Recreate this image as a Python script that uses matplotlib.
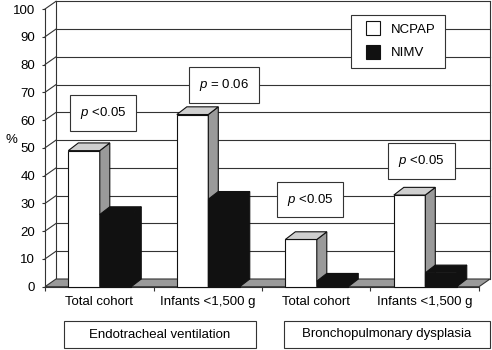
import matplotlib
matplotlib.use("Agg")
import matplotlib.pyplot as plt
from matplotlib.patches import Polygon, Rectangle
from matplotlib.lines import Line2D

plt.rcParams['font.family'] = ['Liberation Sans', 'DejaVu Sans']
plt.rcParams['mathtext.fontset'] = 'custom'
plt.rcParams['mathtext.it'] = 'Liberation Sans:italic'
plt.rcParams['mathtext.rm'] = 'Liberation Sans'

# data
categories = ['Total cohort', 'Infants <1,500 g', 'Total cohort', 'Infants <1,500 g']
ncpap = [49, 62, 17, 33]
nimv = [26, 31.5, 2, 5]
p_texts = ['$p$ <0.05', '$p$ = 0.06', '$p$ <0.05', '$p$ <0.05']
groups = ['Endotracheal ventilation', 'Bronchopulmonary dysplasia']

# where the p boxes sit (data coords)
p_pos = [(0.535, 62.5), (1.65, 72.6), (2.44, 31.4), (3.47, 45.3)]

W, H = 492, 350
fig = plt.figure(figsize=(W / 100, H / 100), dpi=100)
ax_l, ax_b, ax_w, ax_h = 45, 286.7, 434, 277.7  # pixels
ax = fig.add_axes([ax_l / W, (H - ax_b) / H, ax_w / W, ax_h / H])
ax.set_xlim(0, 4)
ax.set_ylim(0, 100)

# pixel depth -> data units
px_x = ax_w / 4.0
px_y = ax_h / 100.0
wdx, wdy = 11 / px_x, 7.7 / px_y   # wall depth
bdx, bdy = 10 / px_x, 7.7 / px_y   # bar depth

grid_c = '#333333'
lw = 0.8
side_grey = '#9a9a9a'
top_grey = '#cfcfcf'
dark = '#111111'

# back wall gridlines + left side diagonals
for v in range(10, 101, 10):
    ax.plot([0 + wdx, 4 + wdx], [v + wdy, v + wdy], color=grid_c, lw=lw, zorder=1, clip_on=False)
    ax.plot([0, wdx], [v, v + wdy], color=grid_c, lw=lw, zorder=1, clip_on=False)
ax.plot([wdx, wdx], [wdy, 100 + wdy], color=grid_c, lw=lw, zorder=1, clip_on=False)
ax.plot([4 + wdx, 4 + wdx], [wdy, 100 + wdy], color=grid_c, lw=lw, zorder=1, clip_on=False)

# floor
floor = Polygon([(0, 0), (4, 0), (4 + wdx, wdy), (wdx, wdy)], closed=True,
                facecolor=side_grey, edgecolor=grid_c, lw=lw, zorder=2, clip_on=False)
ax.add_patch(floor)


def bar3d(x0, w, h, front, side, top, z):
    ax.add_patch(Rectangle((x0, 0), w, h, facecolor=front, edgecolor=dark, lw=lw,
                           zorder=z, clip_on=False))
    ax.add_patch(Polygon([(x0 + w, 0), (x0 + w, h), (x0 + w + bdx, h + bdy), (x0 + w + bdx, bdy)],
                         closed=True, facecolor=side, edgecolor=dark, lw=lw, zorder=z, clip_on=False))
    ax.add_patch(Polygon([(x0, h), (x0 + w, h), (x0 + w + bdx, h + bdy), (x0 + bdx, h + bdy)],
                         closed=True, facecolor=top, edgecolor=dark, lw=lw, zorder=z, clip_on=False))


bw = 0.29
for i in range(len(categories)):
    bar3d(i + 0.215, bw, ncpap[i], 'white', side_grey, top_grey, 3 + i)
    bar3d(i + 0.215 + bw, bw, nimv[i], dark, dark, dark, 3 + i)

# axes styling
for s in ['top', 'right']:
    ax.spines[s].set_visible(False)
ax.spines['left'].set_linewidth(lw)
ax.spines['left'].set_color(grid_c)
ax.spines['bottom'].set_linewidth(lw)
ax.spines['bottom'].set_color(grid_c)
ax.spines['bottom'].set_zorder(2.5)
ax.patch.set_visible(False)

ax.set_yticks(range(0, 101, 10))
ax.tick_params(axis='y', length=2.5, width=lw, color=grid_c, pad=4.5, labelsize=9.5)
ax.set_xticks([0, 1, 2, 3, 4])
ax.set_xticklabels([])
ax.set_xticks([0.5, 1.5, 2.5, 3.5], minor=True)
ax.set_xticklabels(categories, minor=True)
ax.tick_params(axis='x', which='major', length=3, width=lw, color=grid_c)
ax.tick_params(axis='x', which='minor', length=0, pad=6.5, labelsize=9.5)

fig.text(6 / W, 1 - 140 / H, '%', ha='left', va='center', fontsize=9.5)

# p-value boxes
for (px, py), t in zip(p_pos, p_texts):
    ax.text(px, py, t, ha='center', va='center', fontsize=9.5, zorder=20,
            bbox=dict(boxstyle='square,pad=0.75', facecolor='white', edgecolor=grid_c, lw=lw))

# group boxes under the axis
group_px = [(64, 256), (284, 490)]
for (x1, x2), g in zip(group_px, groups):
    a1 = (x1 - ax_l) / ax_w
    a2 = (x2 - ax_l) / ax_w
    y1 = (ax_b - 348) / ax_h
    y2 = (ax_b - 321) / ax_h
    ax.add_patch(Rectangle((a1, y1), a2 - a1, y2 - y1, transform=ax.transAxes,
                           facecolor='white', edgecolor=grid_c, lw=lw, clip_on=False))
    ax.text((a1 + a2) / 2, (y1 + y2) / 2, g, transform=ax.transAxes,
            ha='center', va='center', fontsize=9.5)

# legend
handles = [Line2D([], [], ls='', marker='s', markersize=9.5, markerfacecolor='white',
                  markeredgecolor=dark, markeredgewidth=lw),
           Line2D([], [], ls='', marker='s', markersize=9.5, markerfacecolor=dark,
                  markeredgecolor=dark, markeredgewidth=lw)]
leg = ax.legend(handles, ['NCPAP', 'NIMV'], loc='upper left',
                bbox_to_anchor=((351 - ax_l) / ax_w, (ax_b - 15) / ax_h),
                borderaxespad=0, fancybox=False, framealpha=1, edgecolor=grid_c,
                fontsize=9.5, handlelength=2, handletextpad=0.4, labelspacing=0.85,
                borderpad=0.65)
leg.get_frame().set_linewidth(lw)
leg.set_zorder(30)

fig.savefig('out.png', dpi=100)
